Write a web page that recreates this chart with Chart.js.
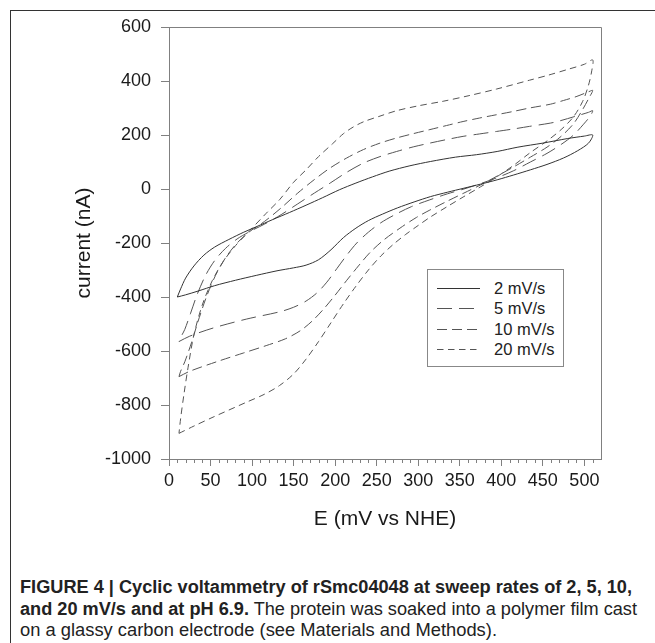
<!DOCTYPE html>
<html>
<head>
<meta charset="utf-8">
<script src="https://cdn.jsdelivr.net/npm/chart.js@4.4.1/dist/chart.umd.min.js"></script>
<style>
    body { margin: 0; background: #fff; }
    #wrap { position: relative; width: 655px; height: 643px; overflow: hidden; }
    #frame { position: absolute; left: 10px; top: 10px; width: 660px; height: 660px; border-left: 1.5px solid #333; border-top: 1.5px solid #333; }
    #chartBox { position: absolute; left: 0; top: 0; width: 655px; height: 560px; }
    #legend { position: absolute; left: 427px; top: 269px; width: 135px; height: 96px; border: 1px solid #888; background: #fff;
        font-family: "Liberation Sans", Arial, sans-serif; font-size: 16.5px; color: #222; }
    .row { position: absolute; left: 0; height: 20px; line-height: 20px; }
    .row svg { position: absolute; left: 9px; top: 0; }
    .row span { position: absolute; left: 66px; top: 0; white-space: nowrap; }
    #caption { position: absolute; left: 20px; top: 577px; font-family: "Liberation Sans", Arial, sans-serif;
        font-size: 17.5px; line-height: 21.5px; color: #222; }
    #caption .line { display: block; white-space: nowrap; transform-origin: 0 0; width: max-content; }
    #caption b { font-weight: bold; }
</style>
</head>
<body>
<div id="wrap">
    <div id="frame"></div>
    <div id="chartBox"><canvas id="cv" width="655" height="560"></canvas></div>
    <div id="legend"></div>
    <div id="caption">
        <span class="line" data-w="612"><b>FIGURE 4 | Cyclic voltammetry of rSmc04048 at sweep rates of 2, 5, 10,</b></span>
        <span class="line" data-w="617"><b>and 20 mV/s and at pH 6.9.</b> The protein was soaked into a polymer film cast</span>
        <span class="line" data-w="477">on a glassy carbon electrode (see Materials and Methods).</span>
    </div>
</div>
<script>
// sweep rates shown in the legend
const labels = ["2 mV/s", "5 mV/s", "10 mV/s", "20 mV/s"]

// each loop: lower branch left -> right, then upper branch back right -> left
const e2 = [10, 20, 35, 55, 80, 105, 130, 150, 165, 180, 195, 210, 225, 240, 257, 275, 295, 315, 335, 355, 375, 395, 415, 435, 455, 475, 492, 505, 510,
    500, 480, 450, 420, 395, 370, 345, 315, 290, 265, 245, 225, 205, 185, 165, 145, 125, 105, 90, 72, 55, 42, 30, 20, 14, 10]
const i2 = [-400, -392, -378, -358, -338, -320, -303, -292, -282, -262, -225, -180, -145, -117, -93, -70, -48, -28, -12, 3, 18, 34, 52, 71, 91, 115, 142, 170, 200,
    196, 187, 170, 155, 139, 127, 118, 102, 86, 66, 45, 22, -3, -32, -60, -87, -113, -140, -160, -187, -215, -245, -285, -330, -370, -400]

const e5 = [12, 25, 53, 93, 133, 150, 165, 178, 190, 202, 214, 226, 240, 255, 272, 292, 314, 335, 355, 375, 395, 415, 435, 455, 472, 487, 499, 507, 510,
    505, 490, 470, 459, 434, 414, 394, 374, 354, 334, 314, 294, 274, 254, 234, 214, 194, 175, 155, 135, 115, 97, 82, 68, 55, 44, 34, 26, 19, 14, 12]
const i5 = [-565, -545, -515, -482, -455, -438, -415, -385, -345, -295, -245, -200, -160, -125, -95, -65, -40, -18, 0, 20, 42, 68, 100, 132, 165, 200, 240, 270, 290,
    284, 270, 252, 244, 232, 222, 213, 204, 195, 183, 170, 156, 139, 120, 96, 62, 22, -15, -55, -95, -130, -158, -185, -220, -265, -320, -390, -460, -520, -550, -565]

const e10 = [12, 25, 61, 90, 117, 140, 158, 172, 186, 200, 214, 228, 242, 258, 278, 298, 314, 335, 355, 375, 395, 415, 435, 455, 472, 487, 498, 506, 510,
    505, 490, 475, 459, 434, 414, 394, 374, 354, 334, 314, 294, 274, 254, 234, 214, 194, 175, 155, 135, 115, 97, 82, 68, 56, 45, 35, 27, 19, 14, 12]
const i10 = [-695, -675, -636, -607, -580, -555, -525, -490, -445, -393, -338, -285, -235, -190, -145, -105, -78, -45, -15, 15, 48, 82, 118, 155, 195, 242, 295, 340, 365,
    360, 342, 328, 314, 300, 287, 275, 263, 250, 235, 220, 205, 189, 170, 146, 115, 78, 35, -15, -70, -120, -158, -200, -255, -320, -400, -490, -570, -640, -675, -695]

const e20 = [12, 30, 53, 93, 115, 133, 150, 165, 180, 195, 210, 225, 240, 255, 270, 285, 300, 314, 335, 355, 375, 395, 415, 435, 455, 472, 487, 498, 505, 509, 510,
    500, 480, 457, 434, 394, 360, 330, 300, 274, 254, 235, 222, 210, 197, 180, 165, 150, 133, 117, 97, 80, 65, 52, 40, 30, 23, 18, 14, 12]
const i20 = [-905, -878, -845, -790, -760, -728, -685, -630, -565, -495, -425, -360, -300, -248, -205, -168, -135, -105, -65, -28, 8, 46, 88, 135, 178, 220, 268, 325, 385, 440, 478,
    462, 443, 422, 403, 370, 345, 325, 308, 290, 270, 250, 230, 205, 168, 120, 71, 25, -40, -90, -155, -210, -270, -340, -430, -540, -660, -760, -850, -905]

const xTicks = [0, 50, 100, 150, 200, 250, 300, 350, 400, 450, 500]
const yTicks = [-1000, -800, -600, -400, -200, 0, 200, 400, 600]

const dashes = [[], [15, 7], [10, 5], [6.5, 4.5]]
const colors = ["#333", "#555", "#555", "#555"]
const series = [[e2, i2], [e5, i5], [e10, i10], [e20, i20]]

const H = 560
const plotLeft = 169, plotTop = 27, plotRight = 601, plotBottom = 459

const datasets = series.map((s, k) => ({
    label: labels[k],
    data: s[0].map((x, i) => ({ x: x, y: s[1][i] })),
    showLine: true,
    pointRadius: 0,
    borderColor: colors[k],
    borderWidth: 1,
    borderDash: dashes[k],
    tension: 0.3,
    fill: false,
}))

// minor x ticks and top/right frame of the plot
const extras = {
    id: "extras",
    afterDraw(chart) {
        const ctx = chart.ctx
        const xs = chart.scales.x
        const a = chart.chartArea
        ctx.save()
        ctx.strokeStyle = "#808080"
        ctx.lineWidth = 1
        ctx.beginPath()
        for (let v = 10; v <= 510; v += 10) {
            if (v % 50 === 0) continue
            const px = Math.round(xs.getPixelForValue(v)) + 0.5
            ctx.moveTo(px, a.bottom)
            ctx.lineTo(px, a.bottom + 4)
        }
        ctx.moveTo(a.left, a.top + 0.5)
        ctx.lineTo(a.right + 0.5, a.top + 0.5)
        ctx.lineTo(a.right + 0.5, a.bottom)
        ctx.stroke()
        ctx.restore()
    },
}

Chart.defaults.font.family = "'Liberation Sans', Arial, sans-serif"
Chart.defaults.color = "#1a1a1a"

new Chart(document.getElementById("cv"), {
    type: "scatter",
    data: { datasets: datasets },
    options: {
        responsive: false,
        animation: false,
        layout: { padding: { left: 0, top: plotTop, right: 655 - plotRight, bottom: 0 } },
        plugins: { legend: { display: false }, tooltip: { enabled: false } },
        scales: {
            x: {
                type: "linear",
                min: 0,
                max: 520,
                afterBuildTicks: (s) => { s.ticks = xTicks.map((v) => ({ value: v })) },
                afterFit: (s) => { s.height = H - plotBottom },
                ticks: { font: { size: 18 }, padding: 4, maxRotation: 0, autoSkip: false, callback: (v) => String(v) },
                grid: { drawOnChartArea: false, tickLength: 7, color: "#808080" },
                border: { color: "#808080" },
                title: { display: true, text: "E (mV vs NHE)", font: { size: 21 }, padding: { top: 0, bottom: 28 } },
            },
            y: {
                type: "linear",
                min: -1000,
                max: 600,
                afterBuildTicks: (s) => { s.ticks = yTicks.map((v) => ({ value: v })) },
                afterFit: (s) => { s.width = plotLeft },
                ticks: { font: { size: 18 }, padding: 10, autoSkip: false, callback: (v) => String(v) },
                grid: { drawOnChartArea: false, tickLength: 8, color: "#808080" },
                border: { color: "#808080" },
                title: { display: true, text: "current (nA)", font: { size: 21 }, padding: { top: 72, bottom: 0 } },
            },
        },
    },
    plugins: [extras],
})

// legend
const legend = document.getElementById("legend")
labels.forEach((t, k) => {
    const row = document.createElement("div")
    row.className = "row"
    row.style.top = (8 + k * 20.4) + "px"
    const dash = dashes[k].length ? dashes[k].join(" ") : "none"
    row.innerHTML = '<svg width="43" height="20"><line x1="0" y1="10.5" x2="43" y2="10.5" stroke="' + colors[k] +
        '" stroke-width="1" stroke-dasharray="' + dash + '"/></svg><span>' + t + "</span>"
    legend.appendChild(row)
})

// condensed caption lines, squeezed to the widths seen in the figure
document.querySelectorAll("#caption .line").forEach((el) => {
    const w = el.getBoundingClientRect().width
    el.style.transform = "scaleX(" + (Number(el.dataset.w) / w) + ")"
})
</script>
</body>
</html>
